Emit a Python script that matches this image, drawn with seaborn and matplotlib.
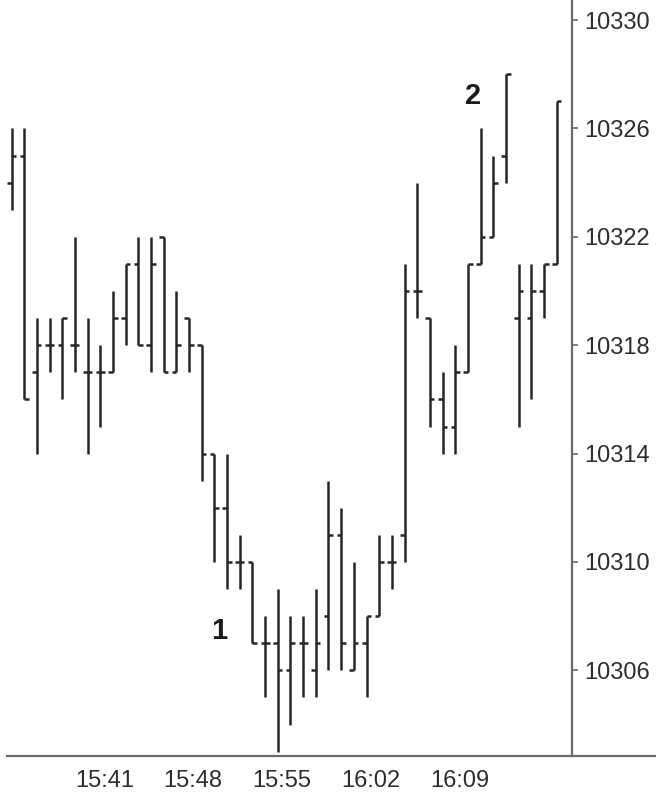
import numpy as np
import pandas as pd
import matplotlib
matplotlib.use("Agg")
import matplotlib.pyplot as plt
import seaborn as sns

# ─────────────────────────────────────────────────────────────
# Data: one-minute OHLC bars, 15:36 → 16:19
# ─────────────────────────────────────────────────────────────
times = list(pd.date_range("2024-01-01 15:36", periods=44, freq="min").strftime("%H:%M"))

opens  = [10324, 10325, 10317, 10318, 10318, 10318, 10317, 10317, 10317, 10319,
          10321, 10318, 10322, 10317, 10319, 10318, 10314, 10312, 10310, 10310,
          10307, 10307, 10306, 10307, 10306, 10308, 10311, 10306, 10307, 10308,
          10310, 10311, 10320, 10319, 10316, 10315, 10317, 10321, 10322, 10325,
          10319, 10319, 10320, 10321]
highs  = [10326, 10326, 10319, 10319, 10319, 10322, 10319, 10318, 10320, 10321,
          10322, 10322, 10322, 10320, 10319, 10318, 10314, 10314, 10311, 10310,
          10308, 10309, 10308, 10308, 10309, 10313, 10312, 10310, 10308, 10311,
          10311, 10321, 10324, 10319, 10317, 10318, 10321, 10326, 10325, 10328,
          10321, 10321, 10321, 10327]
lows   = [10323, 10316, 10314, 10317, 10316, 10317, 10314, 10315, 10317, 10318,
          10318, 10317, 10317, 10317, 10317, 10313, 10310, 10309, 10309, 10307,
          10305, 10303, 10304, 10305, 10305, 10306, 10306, 10306, 10305, 10308,
          10309, 10310, 10319, 10315, 10314, 10314, 10317, 10321, 10322, 10324,
          10315, 10316, 10319, 10321]
closes = [10325, 10316, 10318, 10318, 10319, 10318, 10317, 10317, 10319, 10321,
          10318, 10321, 10317, 10318, 10318, 10314, 10312, 10310, 10310, 10307,
          10307, 10306, 10307, 10307, 10307, 10311, 10307, 10307, 10308, 10310,
          10310, 10320, 10320, 10316, 10315, 10317, 10321, 10322, 10324, 10328,
          10320, 10320, 10321, 10327]

x_ticks       = ["15:41", "15:48", "15:55", "16:02", "16:09", "16:16"]
x_tick_labels = ["15:41", "15:48", "15:55", "16:02", "16:09", ""]
y_ticks       = [10306, 10310, 10314, 10318, 10322, 10326, 10330]

notes   = ["1", "2"]
notes_x = [16.4, 36.4]          # bar-index units
notes_y = [10307.45, 10327.2]

# ─────────────────────────────────────────────────────────────
# Style
# ─────────────────────────────────────────────────────────────
sns.set_style("white")
plt.rcParams["font.family"] = ["Liberation Sans", "DejaVu Sans"]

BAR_COLOR   = "#262626"
AXIS_COLOR  = "#6a6a6a"
TEXT_COLOR  = "#2e2e2e"
TICK_HALF   = 0.36
LW          = 1.8

df = pd.DataFrame({"time": times, "open": opens, "high": highs,
                   "low": lows, "close": closes})
df["x"] = np.arange(len(df))

fig = plt.figure(figsize=(6.56, 7.97), dpi=100)
ax = fig.add_axes([7 / 656, 41 / 797, 649 / 656, 756 / 797])

# high-low range
ax.vlines(df["x"], df["low"], df["high"], color=BAR_COLOR, lw=LW)
# open tick (left) / close tick (right)
ax.hlines(df["open"], df["x"] - TICK_HALF, df["x"], color=BAR_COLOR, lw=LW)
ax.hlines(df["close"], df["x"], df["x"] + TICK_HALF, color=BAR_COLOR, lw=LW)

ax.set_xlim(-0.355, 50.83)
ax.set_ylim(10302.84, 10330.74)

# axes: bottom line full width, price axis inside at the right
sns.despine(ax=ax, left=True, top=True, right=False, bottom=False)
ax.spines["right"].set_position(("data", 44.2))
for side in ("right", "bottom"):
    ax.spines[side].set_color(AXIS_COLOR)
    ax.spines[side].set_linewidth(1.6)

ax.yaxis.tick_right()
ax.set_yticks(y_ticks)
ax.set_yticklabels([str(v) for v in y_ticks])
ax.tick_params(axis="y", direction="out", length=4, width=1.2, color=AXIS_COLOR,
               labelsize=17, labelcolor=TEXT_COLOR, pad=5)

ax.set_xticks([times.index(t) for t in x_ticks])
ax.set_xticklabels(x_tick_labels)
ax.tick_params(axis="x", direction="out", length=5, width=1.2, color=AXIS_COLOR,
               labelsize=17, labelcolor=TEXT_COLOR, pad=5)
for lbl in ax.get_xticklabels():
    lbl.set_horizontalalignment("left")

for txt, nx, ny in zip(notes, notes_x, notes_y):
    ax.text(nx, ny, txt, fontsize=21, fontweight="bold", color="#1a1a1a",
            ha="center", va="center")

ax.grid(False)
fig.savefig("out.png", dpi=100)
plt.close(fig)
